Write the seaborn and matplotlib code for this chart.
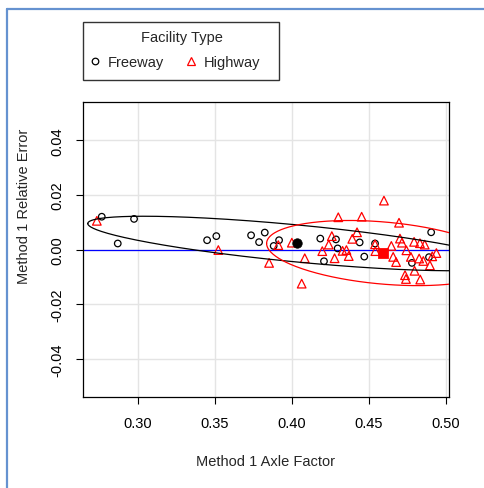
import numpy as np
import pandas as pd
import matplotlib
matplotlib.use("Agg")
import matplotlib.pyplot as plt
from matplotlib.lines import Line2D
from matplotlib.patches import Rectangle
import seaborn as sns

# ---- data -------------------------------------------------------------
freeway_x = [0.2764, 0.2868, 0.2974, 0.3449, 0.3509, 0.3735, 0.3787, 0.3824,
             0.3882, 0.3917, 0.4185, 0.4209, 0.4287, 0.4298, 0.4441, 0.4471,
             0.4541, 0.4781, 0.4892, 0.4906]
freeway_y = [0.0120, 0.0022, 0.0112, 0.0034, 0.0049, 0.0052, 0.0027, 0.0062,
             0.0013, 0.0034, 0.0040, -0.0043, 0.0037, 0.0004, 0.0026, -0.0026,
             0.0022, -0.0049, -0.0028, 0.0063]

highway_x = [0.2732, 0.3522, 0.3852, 0.3912, 0.4000, 0.4064, 0.4084, 0.4198,
             0.4240, 0.4260, 0.4278, 0.4302, 0.4330, 0.4355, 0.4370, 0.4393,
             0.4424, 0.4454, 0.4541, 0.4543, 0.4599, 0.4647, 0.4659, 0.4678,
             0.4697, 0.4703, 0.4716, 0.4745, 0.4736, 0.4742, 0.4774, 0.4795,
             0.4798, 0.4833, 0.4828, 0.4835, 0.4855, 0.4864, 0.4898, 0.4913,
             0.4940]
highway_y = [0.0105, -0.0002, -0.0049, 0.0016, 0.0025, -0.0125, -0.0032, -0.0006,
             0.0018, 0.0049, -0.0032, 0.0118, -0.0005, -0.0002, -0.0024, 0.0039,
             0.0063, 0.0120, 0.0019, -0.0006, 0.0179, 0.0013, -0.0027, -0.0046,
             0.0098, 0.0040, 0.0025, -0.0003, -0.0094, -0.0108, -0.0027, 0.0028,
             -0.0078, 0.0023, -0.0033, -0.0110, -0.0042, 0.0018, -0.0058, -0.0025,
             -0.0013]

# group centroids and concentration-ellipse half-axis vectors
freeway_center = [0.4036, 0.0022]
freeway_axis_u = [-0.1363, 0.0073]
freeway_axis_w = [0.0, 0.0068]

highway_center = [0.4596, -0.0013]
highway_axis_u = [-0.0760, 0.0035]
highway_axis_w = [0.0, 0.0114]

x_ticks = [0.30, 0.35, 0.40, 0.45, 0.50]
y_ticks = [-0.04, -0.02, 0.00, 0.02, 0.04]
group_names = ["Freeway", "Highway"]
legend_title = "Facility Type"

df = pd.DataFrame({
    "x": freeway_x + highway_x,
    "y": freeway_y + highway_y,
    "Facility Type": [group_names[0]] * len(freeway_x) + [group_names[1]] * len(highway_x),
})

# ---- figure -----------------------------------------------------------
sns.set_style("white")
plt.rcParams["font.family"] = ["Liberation Sans", "DejaVu Sans"]
FS = 10.5
CIRC_MS, TRI_MS, MEW = 4.7, 6.2, 0.9

W, H = 484, 489
fig = plt.figure(figsize=(W / 100, H / 100), dpi=100)
ax = fig.add_axes([83 / W, 1 - 398 / H, 366 / W, 295 / H])

ax.set_xlim(0.2642, 0.5022)
ax.set_ylim(-0.054, 0.054)
ax.set_xticks(x_ticks)
ax.set_xticklabels([f"{v:.2f}" for v in x_ticks])
ax.set_yticks(y_ticks)
ax.set_yticklabels([f"{v:.2f}" for v in y_ticks])
ax.grid(True, color="#e4e4e4", lw=1.0)
ax.set_axisbelow(True)

ax.axhline(0.0, color="blue", lw=0.9, zorder=2)

fw = df[df["Facility Type"] == group_names[0]]
hw = df[df["Facility Type"] == group_names[1]]
sns.scatterplot(data=fw, x="x", y="y", marker="o", s=CIRC_MS ** 2,
                facecolor="none", edgecolor="black", linewidth=MEW,
                ax=ax, legend=False, zorder=3)
sns.scatterplot(data=hw, x="x", y="y", marker="^", s=TRI_MS ** 2,
                facecolor="none", edgecolor="red", linewidth=MEW,
                ax=ax, legend=False, zorder=3)

# concentration ellipses
t = np.linspace(0, 2 * np.pi, 400)
for c, u, w, col in [(freeway_center, freeway_axis_u, freeway_axis_w, "black"),
                     (highway_center, highway_axis_u, highway_axis_w, "red")]:
    ex = c[0] + u[0] * np.cos(t) + w[0] * np.sin(t)
    ey = c[1] + u[1] * np.cos(t) + w[1] * np.sin(t)
    ax.plot(ex, ey, color=col, lw=0.9, zorder=4)

# centroids
sns.scatterplot(x=[freeway_center[0]], y=[freeway_center[1]], marker="o", s=6.8 ** 2,
                color="black", edgecolor="black", ax=ax, legend=False, zorder=5)
sns.scatterplot(x=[highway_center[0]], y=[highway_center[1]], marker="s", s=7.0 ** 2,
                color="red", edgecolor="red", ax=ax, legend=False, zorder=5)

for s in ax.spines.values():
    s.set_color("black")
    s.set_linewidth(0.9)

ax.tick_params(direction="out", length=5, width=0.8, pad=8.5, labelsize=FS,
               colors="black", bottom=True, left=True)
ax.tick_params(axis="y", labelrotation=90)
for lbl in ax.get_yticklabels():
    lbl.set_va("center")

ax.set_xlabel("Method 1 Axle Factor", fontsize=FS)
ax.xaxis.set_label_coords(0.5, -0.193)
ax.set_ylabel("Method 1 Relative Error", fontsize=FS)
ax.yaxis.set_label_coords(-0.142, 0.649)

# legend: framed box in the top margin with a centred title
fig.add_artist(Rectangle((83 / W, 1 - 81 / H), 196 / W, 58 / H, transform=fig.transFigure,
                         facecolor="white", edgecolor="#333333", lw=1.0, zorder=1))
fig.text(182 / W, 1 - 38 / H, legend_title, ha="center", va="center", fontsize=FS)
handles = [
    Line2D([], [], ls="none", marker="o", ms=CIRC_MS, mfc="none", mec="black", mew=MEW,
           label=group_names[0]),
    Line2D([], [], ls="none", marker="^", ms=TRI_MS, mfc="none", mec="red", mew=MEW,
           label=group_names[1]),
]
leg = fig.legend(handles=handles, ncol=2, loc="center left",
                 bbox_to_anchor=(86.25 / W, 1 - 63 / H), frameon=False,
                 borderpad=0, handlelength=1.2, handletextpad=0.29,
                 columnspacing=1.23, fontsize=FS, borderaxespad=0)
leg.set_zorder(2)

# page frame
fc = "#6592d0"
fig.add_artist(Line2D([7 / W, 7 / W], [1 - 10 / H, 0], transform=fig.transFigure, color=fc, lw=1.6))
fig.add_artist(Line2D([7 / W, 1], [1 - 10 / H, 1 - 10 / H], transform=fig.transFigure, color=fc, lw=1.6))

fig.savefig("out.png", dpi=100, facecolor="white")
